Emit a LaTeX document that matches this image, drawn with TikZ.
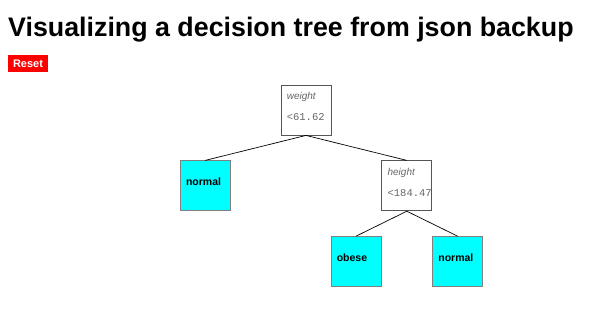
\documentclass[tikz,border=0pt]{standalone}
\usepackage{fontspec}
\setmainfont{Liberation Sans}
\setmonofont{Liberation Mono}
\usetikzlibrary{positioning}
\definecolor{resetred}{HTML}{FF0000}
\definecolor{leafcyan}{HTML}{00FFFF}
\definecolor{boxgrey}{HTML}{555555}
\definecolor{textgrey}{HTML}{666666}

\begin{document}
\begin{tikzpicture}[x=1pt, y=-1pt,
  split/.style={rectangle, draw=boxgrey, fill=white, minimum size=50pt, inner sep=0pt, line width=0.8pt},
  leaf/.style={split, fill=leafcyan, draw=gray},
  attr/.style={anchor=base west, inner sep=0pt, text=textgrey, font=\itshape\fontsize{10}{12}\selectfont},
  thr/.style={anchor=base west, inner sep=0pt, text=textgrey, font=\ttfamily\fontsize{10.5}{12}\selectfont},
  class/.style={anchor=base west, inner sep=0pt, font=\bfseries\fontsize{10.5}{12}\selectfont},
  edge/.style={draw=black, line width=0.7pt}]
\useasboundingbox (0,0) rectangle (594,323);
\node[anchor=base west, inner sep=0pt, font=\bfseries\fontsize{26.8}{30}\selectfont] (title) at (8,37) {Visualizing a decision tree from json backup};
\node[fill=resetred, text=white, minimum width=40pt, minimum height=17pt, inner sep=0pt, font=\bfseries\fontsize{11}{12}\selectfont] (reset) at (28,63.5) {Reset};

% tree boxes
\node[split] (weight) at (306,110) {};
\node[leaf, below left=25pt and 50pt of weight] (normal1) {};
\node[split, below right=25pt and 50pt of weight] (height) {};
\node[leaf, below left=25pt and 0pt of height] (obese) {};
\node[leaf, below right=25pt and 0pt of height] (normal2) {};

\draw[edge] (weight.south) -- (normal1.north);
\draw[edge] (weight.south) -- (height.north);
\draw[edge] (height.south) -- (obese.north);
\draw[edge] (height.south) -- (normal2.north);

% box texts
\node[attr] (weight-attr) at ([xshift=6pt,yshift=-15pt]weight.north west) {weight};
\node[thr] (weight-thr) at ([xshift=6pt,yshift=-35.5pt]weight.north west) {<61.62};
\node[attr] (height-attr) at ([xshift=6pt,yshift=-15pt]height.north west) {height};
\node[thr] (height-thr) at ([xshift=6pt,yshift=-36pt]height.north west) {<184.47};
\node[class] (normal1-txt) at ([xshift=6pt,yshift=-25.5pt]normal1.north west) {normal};
\node[class] (obese-txt) at ([xshift=6pt,yshift=-25pt]obese.north west) {obese};
\node[class] (normal2-txt) at ([xshift=6pt,yshift=-25pt]normal2.north west) {normal};
\end{tikzpicture}
\end{document}
